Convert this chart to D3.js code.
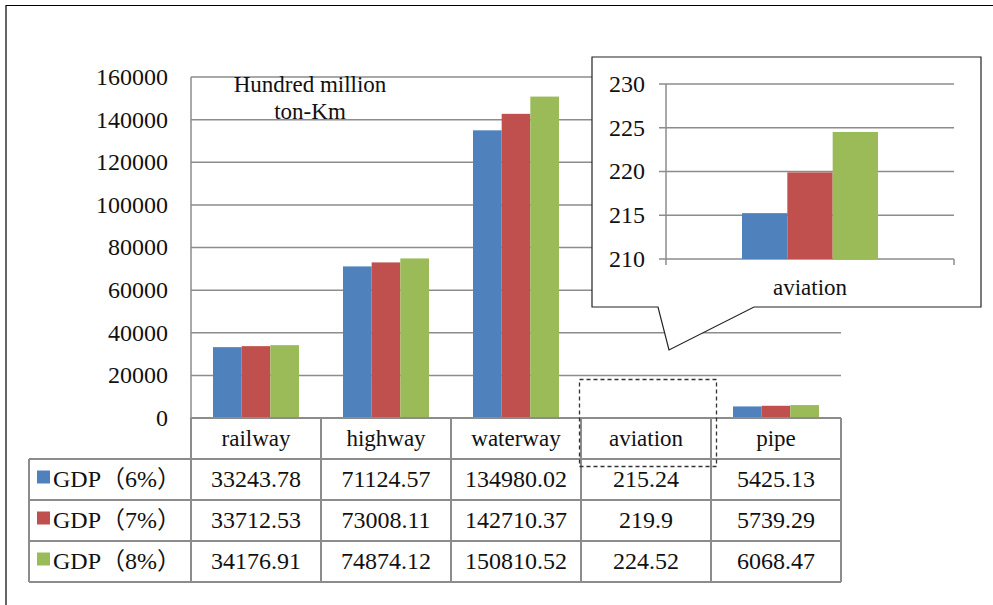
<!DOCTYPE html>
<html>
<head>
<meta charset="utf-8">
<script src="https://cdn.jsdelivr.net/npm/d3@7"></script>
<style>
  body { margin: 0; background: #fff; }
  svg text { font-family: "Liberation Serif", "Times New Roman", "Noto Sans CJK SC", serif; fill: #111; }
</style>
</head>
<body>
<div id="svg-container"></div>
<script>
// data
const categories = ["railway", "highway", "waterway", "aviation", "pipe"];
const seriesNames = ["GDP（6%）", "GDP（7%）", "GDP（8%）"];
const gdp6 = [33243.78, 71124.57, 134980.02, 215.24, 5425.13];
const gdp7 = [33712.53, 73008.11, 142710.37, 219.9, 5739.29];
const gdp8 = [34176.91, 74874.12, 150810.52, 224.52, 6068.47];
const seriesValues = [gdp6, gdp7, gdp8];
const yTicks = [0, 20000, 40000, 60000, 80000, 100000, 120000, 140000, 160000];
const insetTicks = [210, 215, 220, 225, 230];
const unitLines = ["Hundred million", "ton-Km"];
const zoomCategory = "aviation";

const colors = ["#4F81BD", "#C0504D", "#9BBB59"];
const gridColor = "#8c8c8c";
const fontSize = 24;

const svg = d3.select("#svg-container").append("svg")
  .attr("width", 993).attr("height", 605);

// frame (only left & top visible)
svg.append("path").attr("d", "M6,605 V5.5 H993")
  .attr("fill", "none").attr("stroke", "#000").attr("stroke-width", 1.2);

// scales
const xScale = d3.scaleBand().domain(categories).range([191, 841]);
const subScale = d3.scaleBand().domain(seriesNames).range([22, 108]);
const yScale = d3.scaleLinear().domain([0, 160000]).range([418, 77]);
const colorScale = d3.scaleOrdinal().domain(seriesNames).range(colors);

// gridlines
svg.append("g").selectAll("line").data(yTicks).join("line")
  .attr("x1", 191).attr("x2", 841)
  .attr("y1", d => yScale(d)).attr("y2", d => yScale(d))
  .attr("stroke", gridColor).attr("stroke-width", 1.5);

svg.append("g").selectAll("text").data(yTicks).join("text")
  .attr("x", 168).attr("y", d => yScale(d)).attr("dy", "0.33em")
  .attr("text-anchor", "end").attr("font-size", fontSize)
  .text(d => d);

// unit label
svg.append("g").selectAll("text").data(unitLines).join("text")
  .attr("x", 310).attr("y", (d, i) => 92 + i * 27)
  .attr("text-anchor", "middle").attr("font-size", fontSize - 1)
  .text(d => d);

// bars
const barData = [];
categories.forEach((c, ci) => {
  seriesNames.forEach((s, si) => barData.push({ cat: c, series: s, value: seriesValues[si][ci] }));
});

svg.append("g").selectAll("rect").data(barData).join("rect")
  .attr("x", d => xScale(d.cat) + subScale(d.series))
  .attr("width", subScale.bandwidth())
  .attr("y", d => yScale(d.value))
  .attr("height", d => yScale(0) - yScale(d.value))
  .attr("fill", d => colorScale(d.series));

// y axis line
svg.append("line").attr("x1", 191).attr("x2", 191).attr("y1", 77).attr("y2", 418)
  .attr("stroke", gridColor).attr("stroke-width", 1.5);

// data table
const rowScale = d3.scaleBand().domain(["header", ...seriesNames]).range([418, 582]);
const table = svg.append("g");
const tableLeft = 29;

// horizontal lines
table.append("line").attr("x1", 191).attr("x2", 841).attr("y1", 418).attr("y2", 418)
  .attr("stroke", gridColor).attr("stroke-width", 2);
table.selectAll(".hline").data(seriesNames).join("line")
  .attr("class", "hline")
  .attr("x1", tableLeft).attr("x2", 841)
  .attr("y1", d => rowScale(d)).attr("y2", d => rowScale(d))
  .attr("stroke", gridColor).attr("stroke-width", 2);
table.append("line").attr("x1", tableLeft).attr("x2", 841).attr("y1", 582).attr("y2", 582)
  .attr("stroke", gridColor).attr("stroke-width", 2);

// vertical lines
table.selectAll(".vline").data([...categories, "end"]).join("line")
  .attr("class", "vline")
  .attr("x1", d => d === "end" ? 841 : xScale(d)).attr("x2", d => d === "end" ? 841 : xScale(d))
  .attr("y1", 418).attr("y2", 582)
  .attr("stroke", gridColor).attr("stroke-width", 2);
table.append("line").attr("x1", tableLeft).attr("x2", tableLeft)
  .attr("y1", rowScale(seriesNames[0])).attr("y2", 582)
  .attr("stroke", gridColor).attr("stroke-width", 2);

// category labels
table.selectAll(".cat").data(categories).join("text")
  .attr("class", "cat")
  .attr("x", d => xScale(d) + xScale.bandwidth() / 2)
  .attr("y", rowScale("header") + rowScale.bandwidth() / 2).attr("dy", "0.33em")
  .attr("text-anchor", "middle").attr("font-size", fontSize - 1)
  .text(d => d);

// series rows
seriesNames.forEach((s, si) => {
  const yc = rowScale(s) + rowScale.bandwidth() / 2;
  table.append("rect").attr("x", 37).attr("y", yc - 9).attr("width", 13).attr("height", 13)
    .attr("fill", colorScale(s));
  table.append("text").attr("x", 53).attr("y", yc).attr("dy", "0.33em")
    .attr("font-size", fontSize).text(s);
  table.selectAll(".v" + si).data(seriesValues[si]).join("text")
    .attr("x", (d, i) => xScale(categories[i]) + xScale.bandwidth() / 2)
    .attr("y", yc).attr("dy", "0.33em")
    .attr("text-anchor", "middle").attr("font-size", fontSize)
    .text(d => d);
});

// dashed highlight around the zoomed category
svg.append("rect")
  .attr("x", xScale(zoomCategory) - 1.5).attr("y", 379.5)
  .attr("width", xScale.bandwidth() + 7).attr("height", 87)
  .attr("fill", "none").attr("stroke", "#333").attr("stroke-width", 1.3)
  .attr("stroke-dasharray", "4,3");

// inset callout
const inset = svg.append("g");
inset.append("path")
  .attr("d", "M592,57 H981 V307 H754 L669,350 L658,307 H592 Z")
  .attr("fill", "#fff").attr("stroke", "#222").attr("stroke-width", 1.2);

const zi = categories.indexOf(zoomCategory);
const xInset = d3.scaleBand().domain([zoomCategory]).range([666, 954]);
const subInset = d3.scaleBand().domain(seriesNames).range([76, 212]);
const yInset = d3.scaleLinear().domain([210, 230]).range([259, 84]);

inset.selectAll(".ig").data(insetTicks).join("line")
  .attr("x1", 659).attr("x2", 954)
  .attr("y1", d => yInset(d)).attr("y2", d => yInset(d))
  .attr("stroke", gridColor).attr("stroke-width", 1.5);

inset.selectAll(".il").data(insetTicks).join("text")
  .attr("x", 645).attr("y", d => yInset(d)).attr("dy", "0.33em")
  .attr("text-anchor", "end").attr("font-size", fontSize)
  .text(d => d);

inset.selectAll(".ib").data(seriesNames).join("rect")
  .attr("x", d => xInset(zoomCategory) + subInset(d))
  .attr("width", subInset.bandwidth())
  .attr("y", (d, i) => yInset(seriesValues[i][zi]))
  .attr("height", (d, i) => yInset(210) - yInset(seriesValues[i][zi]))
  .attr("fill", d => colorScale(d));

inset.append("line").attr("x1", 666).attr("x2", 666).attr("y1", 84).attr("y2", 265)
  .attr("stroke", gridColor).attr("stroke-width", 1.5);
inset.append("line").attr("x1", 954).attr("x2", 954).attr("y1", 259).attr("y2", 265)
  .attr("stroke", gridColor).attr("stroke-width", 1.5);

inset.append("text")
  .attr("x", xInset(zoomCategory) + xInset.bandwidth() / 2).attr("y", 295)
  .attr("text-anchor", "middle").attr("font-size", fontSize - 1)
  .text(zoomCategory);
</script>
</body>
</html>
